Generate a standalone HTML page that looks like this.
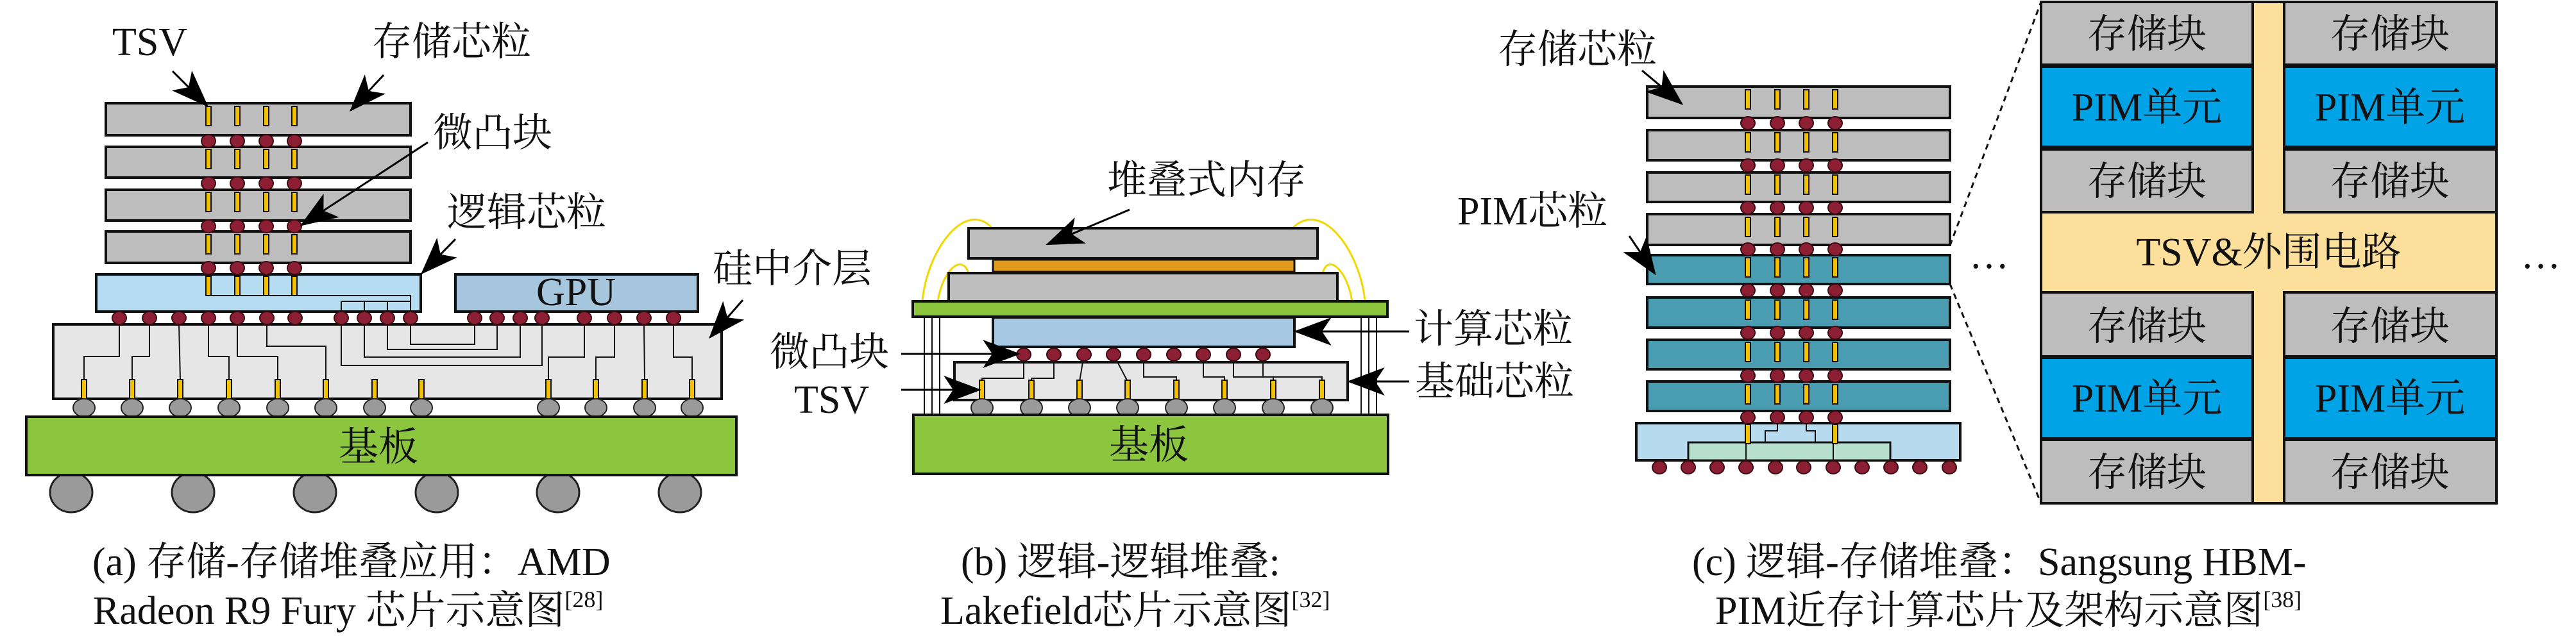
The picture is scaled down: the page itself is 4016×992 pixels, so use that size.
<!DOCTYPE html>
<html><head><meta charset="utf-8"><style>
html,body{margin:0;padding:0;background:#fff}
svg{display:block}
text{font-family:"Liberation Serif","Noto Serif CJK SC","Noto Sans CJK SC",serif;font-size:62px;fill:#111}
</style></head><body>
<svg width="4016" height="992" viewBox="0 0 4016 992" xmlns="http://www.w3.org/2000/svg">
<defs>
<marker id="a" viewBox="0 0 40 30" refX="38" refY="15" markerWidth="60" markerHeight="44" markerUnits="userSpaceOnUse" orient="auto"><path d="M0,0 L40,15 L0,30 L10,15 Z" fill="#000"/></marker>
<g id="rb"><ellipse cx="0" cy="0" rx="11" ry="10" fill="#8c1f33" stroke="#3a0a10" stroke-width="2"/></g>
<g id="gb"><ellipse cx="0" cy="0" rx="17" ry="14" fill="#9a9a9a" stroke="#222" stroke-width="2"/></g>
<g id="ts"><rect x="-4" y="0" width="8" height="30" fill="#f2c200" stroke="#111" stroke-width="2"/></g>
</defs>
<rect width="4016" height="992" fill="#fff"/>

<!-- ===== Panel (a) ===== -->
<g stroke="#111" stroke-width="2" fill="none">
<line x1="325" y1="161" x2="325" y2="486"/><line x1="370" y1="161" x2="370" y2="486"/>
<line x1="415" y1="161" x2="415" y2="486"/><line x1="459" y1="161" x2="459" y2="486"/>
</g>
<g fill="#bdbdbd" stroke="#111" stroke-width="4">
<rect x="165" y="161" width="475" height="50"/>
<rect x="165" y="229" width="475" height="48"/>
<rect x="165" y="296" width="475" height="48"/>
<rect x="165" y="361" width="475" height="49"/>
</g>
<rect x="150" y="428" width="506" height="58" fill="#b5dcf0" stroke="#111" stroke-width="4"/>
<rect x="710" y="428" width="378" height="58" fill="#a6c6dd" stroke="#111" stroke-width="4"/>
<text x="898" y="476" text-anchor="middle" fill="#1a2a4a">GPU</text>
<g>
<use href="#ts" x="325" y="166"/><use href="#ts" x="370" y="166"/><use href="#ts" x="415" y="166"/><use href="#ts" x="459" y="166"/>
<use href="#ts" x="325" y="233"/><use href="#ts" x="370" y="233"/><use href="#ts" x="415" y="233"/><use href="#ts" x="459" y="233"/>
<use href="#ts" x="325" y="300"/><use href="#ts" x="370" y="300"/><use href="#ts" x="415" y="300"/><use href="#ts" x="459" y="300"/>
<use href="#ts" x="325" y="366"/><use href="#ts" x="370" y="366"/><use href="#ts" x="415" y="366"/><use href="#ts" x="459" y="366"/>
<use href="#ts" x="325" y="431"/><use href="#ts" x="370" y="431"/><use href="#ts" x="415" y="431"/><use href="#ts" x="459" y="431"/>
</g>
<g>
<use href="#rb" x="325" y="220"/><use href="#rb" x="370" y="220"/><use href="#rb" x="415" y="220"/><use href="#rb" x="459" y="220"/>
<use href="#rb" x="325" y="286"/><use href="#rb" x="370" y="286"/><use href="#rb" x="415" y="286"/><use href="#rb" x="459" y="286"/>
<use href="#rb" x="325" y="353"/><use href="#rb" x="370" y="353"/><use href="#rb" x="415" y="353"/><use href="#rb" x="459" y="353"/>
<use href="#rb" x="325" y="418"/><use href="#rb" x="370" y="418"/><use href="#rb" x="415" y="418"/><use href="#rb" x="459" y="418"/>
</g>
<g stroke="#111" stroke-width="2" fill="none">
<path d="M320,461 H640 V486"/><path d="M532,486 V470 H640"/><line x1="568" y1="470" x2="568" y2="486"/><line x1="604" y1="470" x2="604" y2="486"/>
</g>
<rect x="83" y="506" width="1042" height="116" fill="#e6e6e6" stroke="#111" stroke-width="4"/>
<g stroke="#111" stroke-width="2" fill="none">
<path d="M186,506 V556 H131 V592"/><path d="M233,506 V556 H206 V592"/><path d="M279,506 L281,592"/>
<path d="M325,506 V556 H357 V592"/><path d="M370,506 V556 H433 V592"/><path d="M416,506 V540 H508 V592"/>
<path d="M532,506 V570 H845 V506"/><path d="M568,506 V557 H811 V506"/><path d="M604,506 V545 H775 V506"/><path d="M640,506 V537 H740 V506"/>
<path d="M855,592 V557 H911 V506"/><path d="M929,592 V557 H958 V506"/><path d="M1005,592 L1004,506"/><path d="M1079,592 V557 H1050 V506"/>
</g>
<g>
<use href="#rb" x="186" y="496"/><use href="#rb" x="233" y="496"/><use href="#rb" x="279" y="496"/><use href="#rb" x="325" y="496"/><use href="#rb" x="370" y="496"/><use href="#rb" x="416" y="496"/><use href="#rb" x="460" y="496"/>
<use href="#rb" x="532" y="496"/><use href="#rb" x="568" y="496"/><use href="#rb" x="604" y="496"/><use href="#rb" x="640" y="496"/>
<use href="#rb" x="740" y="496"/><use href="#rb" x="775" y="496"/><use href="#rb" x="811" y="496"/><use href="#rb" x="845" y="496"/>
<use href="#rb" x="911" y="496"/><use href="#rb" x="958" y="496"/><use href="#rb" x="1004" y="496"/><use href="#rb" x="1050" y="496"/>
</g>
<g>
<use href="#ts" x="131" y="592" /><use href="#ts" x="206" y="592"/><use href="#ts" x="281" y="592"/><use href="#ts" x="357" y="592"/><use href="#ts" x="433" y="592"/><use href="#ts" x="508" y="592"/><use href="#ts" x="584" y="592"/><use href="#ts" x="657" y="592"/>
<use href="#ts" x="855" y="592"/><use href="#ts" x="929" y="592"/><use href="#ts" x="1005" y="592"/><use href="#ts" x="1079" y="592"/>
</g>
<g>
<use href="#gb" x="131" y="636"/><use href="#gb" x="206" y="636"/><use href="#gb" x="281" y="636"/><use href="#gb" x="357" y="636"/><use href="#gb" x="433" y="636"/><use href="#gb" x="508" y="636"/><use href="#gb" x="584" y="636"/><use href="#gb" x="657" y="636"/>
<use href="#gb" x="855" y="636"/><use href="#gb" x="929" y="636"/><use href="#gb" x="1005" y="636"/><use href="#gb" x="1079" y="636"/>
</g>
<g fill="#9a9a9a" stroke="#222" stroke-width="3">
<ellipse cx="111" cy="768" rx="33" ry="31"/><ellipse cx="301" cy="768" rx="33" ry="31"/><ellipse cx="491" cy="768" rx="33" ry="31"/>
<ellipse cx="681" cy="768" rx="33" ry="31"/><ellipse cx="870" cy="768" rx="33" ry="31"/><ellipse cx="1060" cy="768" rx="33" ry="31"/>
</g>
<rect x="41" y="650" width="1107" height="91" fill="#8cc63e" stroke="#111" stroke-width="4"/>
<text x="590" y="718" text-anchor="middle" fill="#1f4a10">基板</text>
<text x="175" y="86">TSV</text>
<text x="580" y="86">存储芯粒</text>
<text x="675" y="228">微凸块</text>
<text x="697" y="352">逻辑芯粒</text>
<text x="1111" y="440">硅中介层</text>
<g stroke="#000" stroke-width="3" marker-end="url(#a)">
<line x1="269" y1="111" x2="323" y2="165"/>
<line x1="598" y1="117" x2="547" y2="172"/>
<line x1="667" y1="222" x2="470" y2="351"/>
<line x1="710" y1="373" x2="658" y2="426"/>
<line x1="1158" y1="468" x2="1107" y2="526"/>
</g>
<text x="144" y="897">(a) 存储-存储堆叠应用：AMD</text>
<text x="145" y="973">Radeon R9 Fury 芯片示意图<tspan font-size="36" dy="-26">[28]</tspan></text>

<!-- ===== Panel (b) ===== -->
<g stroke="#f1d800" stroke-width="3" fill="none">
<path d="M1438,470 C1445,390 1505,310 1547,356"/>
<path d="M1462,470 C1470,420 1500,395 1510,426"/>
<path d="M2128,470 C2120,390 2060,310 2015,356"/>
<path d="M2108,470 C2100,420 2070,395 2062,426"/>
</g>
<rect x="1510" y="356" width="544" height="47" fill="#bdbdbd" stroke="#111" stroke-width="4"/>
<rect x="1548" y="405" width="470" height="19" fill="#e39a1c" stroke="#111" stroke-width="3"/>
<rect x="1479" y="426" width="606" height="44" fill="#bdbdbd" stroke="#111" stroke-width="4"/>
<rect x="1423" y="470" width="740" height="24" fill="#8cc63e" stroke="#111" stroke-width="4"/>
<g stroke="#111" stroke-width="2">
<line x1="1441" y1="494" x2="1441" y2="647"/><line x1="1453" y1="494" x2="1453" y2="647"/><line x1="1465" y1="494" x2="1465" y2="647"/>
<line x1="2122" y1="494" x2="2122" y2="647"/><line x1="2134" y1="494" x2="2134" y2="647"/><line x1="2146" y1="494" x2="2146" y2="647"/>
</g>
<rect x="1548" y="495" width="470" height="46" fill="#a6c8e3" stroke="#111" stroke-width="4"/>
<rect x="1488" y="565" width="613" height="59" fill="#e6e6e6" stroke="#111" stroke-width="4"/>
<g stroke="#111" stroke-width="2" fill="none">
<path d="M1596,553 V590 H1531 V595"/><path d="M1643,553 V590 H1608 V595"/><path d="M1690,553 L1683,595"/><path d="M1736,553 L1758,595"/>
<path d="M1783,553 V588 H1834 V595"/><path d="M1876,553 V588 H1909 V595"/><path d="M1923,553 V588 H1985 V595"/><path d="M1969,553 V588 H2061 V595"/>
</g>
<g>
<use href="#rb" x="1596" y="553"/><use href="#rb" x="1643" y="553"/><use href="#rb" x="1690" y="553"/><use href="#rb" x="1736" y="553"/><use href="#rb" x="1783" y="553"/><use href="#rb" x="1830" y="553"/><use href="#rb" x="1876" y="553"/><use href="#rb" x="1923" y="553"/><use href="#rb" x="1969" y="553"/>
<use href="#ts" x="1531" y="593"/><use href="#ts" x="1608" y="593"/><use href="#ts" x="1683" y="593"/><use href="#ts" x="1758" y="593"/><use href="#ts" x="1834" y="593"/><use href="#ts" x="1909" y="593"/><use href="#ts" x="1985" y="593"/><use href="#ts" x="2061" y="593"/>
<use href="#gb" x="1531" y="636"/><use href="#gb" x="1608" y="636"/><use href="#gb" x="1683" y="636"/><use href="#gb" x="1758" y="636"/><use href="#gb" x="1834" y="636"/><use href="#gb" x="1909" y="636"/><use href="#gb" x="1985" y="636"/><use href="#gb" x="2061" y="636"/>
</g>
<rect x="1424" y="647" width="740" height="92" fill="#8cc63e" stroke="#111" stroke-width="4"/>
<text x="1791" y="715" text-anchor="middle" fill="#1f4a10">基板</text>
<text x="1726" y="302">堆叠式内存</text>
<text x="1200" y="570">微凸块</text>
<text x="1238" y="644">TSV</text>
<text x="2204" y="534">计算芯粒</text>
<text x="2206" y="616">基础芯粒</text>
<g stroke="#000" stroke-width="3" marker-end="url(#a)">
<line x1="1761" y1="327" x2="1633" y2="381"/>
<line x1="1405" y1="552" x2="1588" y2="552"/>
<line x1="1405" y1="608" x2="1527" y2="608"/>
<line x1="2197" y1="517" x2="2020" y2="517"/>
<line x1="2197" y1="595" x2="2103" y2="595"/>
</g>
<text x="1498" y="897">(b) 逻辑-逻辑堆叠:</text>
<text x="1466" y="973">Lakefield芯片示意图<tspan font-size="36" dy="-26">[32]</tspan></text>

<!-- ===== Panel (c) ===== -->
<g stroke="#111" stroke-width="2">
<line x1="2725" y1="135" x2="2725" y2="690"/><line x1="2771" y1="135" x2="2771" y2="672"/><line x1="2816" y1="135" x2="2816" y2="672"/><line x1="2861" y1="135" x2="2861" y2="690"/>
</g>
<g stroke="#111" stroke-width="4">
<rect x="2568" y="135" width="472" height="49" fill="#bdbdbd"/>
<rect x="2568" y="203" width="472" height="47" fill="#bdbdbd"/>
<rect x="2568" y="269" width="472" height="46" fill="#bdbdbd"/>
<rect x="2568" y="334" width="472" height="48" fill="#bdbdbd"/>
<rect x="2568" y="398" width="472" height="45" fill="#4a9cb0"/>
<rect x="2568" y="464" width="472" height="47" fill="#4a9cb0"/>
<rect x="2568" y="530" width="472" height="46" fill="#4a9cb0"/>
<rect x="2568" y="595" width="472" height="46" fill="#4a9cb0"/>
</g>
<rect x="2551" y="660" width="505" height="58" fill="#b6dbee" stroke="#111" stroke-width="4"/>
<rect x="2632" y="690" width="315" height="28" fill="#b8e0cf" stroke="#111" stroke-width="3"/>
<g stroke="#111" stroke-width="2" fill="none">
<path d="M2771,660 V672 H2752 V690"/><path d="M2816,660 V672 H2830 V690"/>
<line x1="2722" y1="690" x2="2722" y2="718"/><line x1="2858" y1="690" x2="2858" y2="718"/>
</g>
<g>
<use href="#ts" x="2725" y="140"/><use href="#ts" x="2771" y="140"/><use href="#ts" x="2816" y="140"/><use href="#ts" x="2861" y="140"/>
<use href="#ts" x="2725" y="207"/><use href="#ts" x="2771" y="207"/><use href="#ts" x="2816" y="207"/><use href="#ts" x="2861" y="207"/>
<use href="#ts" x="2725" y="273"/><use href="#ts" x="2771" y="273"/><use href="#ts" x="2816" y="273"/><use href="#ts" x="2861" y="273"/>
<use href="#ts" x="2725" y="339"/><use href="#ts" x="2771" y="339"/><use href="#ts" x="2816" y="339"/><use href="#ts" x="2861" y="339"/>
<use href="#ts" x="2725" y="402"/><use href="#ts" x="2771" y="402"/><use href="#ts" x="2816" y="402"/><use href="#ts" x="2861" y="402"/>
<use href="#ts" x="2725" y="468"/><use href="#ts" x="2771" y="468"/><use href="#ts" x="2816" y="468"/><use href="#ts" x="2861" y="468"/>
<use href="#ts" x="2725" y="534"/><use href="#ts" x="2771" y="534"/><use href="#ts" x="2816" y="534"/><use href="#ts" x="2861" y="534"/>
<use href="#ts" x="2725" y="600"/><use href="#ts" x="2771" y="600"/><use href="#ts" x="2816" y="600"/><use href="#ts" x="2861" y="600"/>
<use href="#ts" x="2725" y="662"/><use href="#ts" x="2861" y="662"/>
</g>
<g>
<use href="#rb" x="2725" y="192"/><use href="#rb" x="2771" y="192"/><use href="#rb" x="2816" y="192"/><use href="#rb" x="2861" y="192"/>
<use href="#rb" x="2725" y="258"/><use href="#rb" x="2771" y="258"/><use href="#rb" x="2816" y="258"/><use href="#rb" x="2861" y="258"/>
<use href="#rb" x="2725" y="324"/><use href="#rb" x="2771" y="324"/><use href="#rb" x="2816" y="324"/><use href="#rb" x="2861" y="324"/>
<use href="#rb" x="2725" y="389"/><use href="#rb" x="2771" y="389"/><use href="#rb" x="2816" y="389"/><use href="#rb" x="2861" y="389"/>
<use href="#rb" x="2725" y="453"/><use href="#rb" x="2771" y="453"/><use href="#rb" x="2816" y="453"/><use href="#rb" x="2861" y="453"/>
<use href="#rb" x="2725" y="519"/><use href="#rb" x="2771" y="519"/><use href="#rb" x="2816" y="519"/><use href="#rb" x="2861" y="519"/>
<use href="#rb" x="2725" y="586"/><use href="#rb" x="2771" y="586"/><use href="#rb" x="2816" y="586"/><use href="#rb" x="2861" y="586"/>
<use href="#rb" x="2725" y="651"/><use href="#rb" x="2771" y="651"/><use href="#rb" x="2816" y="651"/><use href="#rb" x="2861" y="651"/>
</g>
<g>
<use href="#rb" x="2587" y="729"/><use href="#rb" x="2632" y="729"/><use href="#rb" x="2677" y="729"/><use href="#rb" x="2722" y="729"/><use href="#rb" x="2768" y="729"/><use href="#rb" x="2812" y="729"/><use href="#rb" x="2858" y="729"/><use href="#rb" x="2903" y="729"/><use href="#rb" x="2948" y="729"/><use href="#rb" x="2993" y="729"/><use href="#rb" x="3039" y="729"/>
</g>
<text x="2335" y="98">存储芯粒</text>
<text x="2272" y="350">PIM芯粒</text>
<g stroke="#000" stroke-width="3" marker-end="url(#a)">
<line x1="2560" y1="110" x2="2622" y2="162"/>
<line x1="2540" y1="368" x2="2580" y2="427"/>
</g>
<text x="3070" y="418" font-size="40">…</text>
<text x="3930" y="418" font-size="40">…</text>
<g stroke="#111" stroke-width="3" stroke-dasharray="9,7">
<line x1="3040" y1="383" x2="3182" y2="3"/>
<line x1="3040" y1="443" x2="3182" y2="785"/>
</g>
<rect x="3182" y="3" width="710" height="782" fill="#fddf9c" stroke="#111" stroke-width="4"/>
<g stroke="#111" stroke-width="4">
<rect x="3182" y="3" width="330" height="98" fill="#bdbdbd"/>
<rect x="3182" y="104" width="330" height="125" fill="#00a3e6"/>
<rect x="3182" y="233" width="330" height="98" fill="#bdbdbd"/>
<rect x="3182" y="456" width="330" height="100" fill="#bdbdbd"/>
<rect x="3182" y="558" width="330" height="126" fill="#00a3e6"/>
<rect x="3182" y="686" width="330" height="99" fill="#bdbdbd"/>
<rect x="3561" y="3" width="331" height="98" fill="#bdbdbd"/>
<rect x="3561" y="104" width="331" height="125" fill="#00a3e6"/>
<rect x="3561" y="233" width="331" height="98" fill="#bdbdbd"/>
<rect x="3561" y="456" width="331" height="100" fill="#bdbdbd"/>
<rect x="3561" y="558" width="331" height="126" fill="#00a3e6"/>
<rect x="3561" y="686" width="331" height="99" fill="#bdbdbd"/>
</g>
<g text-anchor="middle">
<text x="3347" y="74">存储块</text><text x="3726" y="74">存储块</text>
<text x="3347" y="188">PIM单元</text><text x="3726" y="188">PIM单元</text>
<text x="3347" y="304">存储块</text><text x="3726" y="304">存储块</text>
<text x="3537" y="414">TSV&amp;外围电路</text>
<text x="3347" y="530">存储块</text><text x="3726" y="530">存储块</text>
<text x="3347" y="642">PIM单元</text><text x="3726" y="642">PIM单元</text>
<text x="3347" y="758">存储块</text><text x="3726" y="758">存储块</text>
</g>
<text x="2638" y="897">(c) 逻辑-存储堆叠：Sangsung HBM-</text>
<text x="2674" y="973">PIM近存计算芯片及架构示意图<tspan font-size="36" dy="-26">[38]</tspan></text>
</svg>
</body></html>
